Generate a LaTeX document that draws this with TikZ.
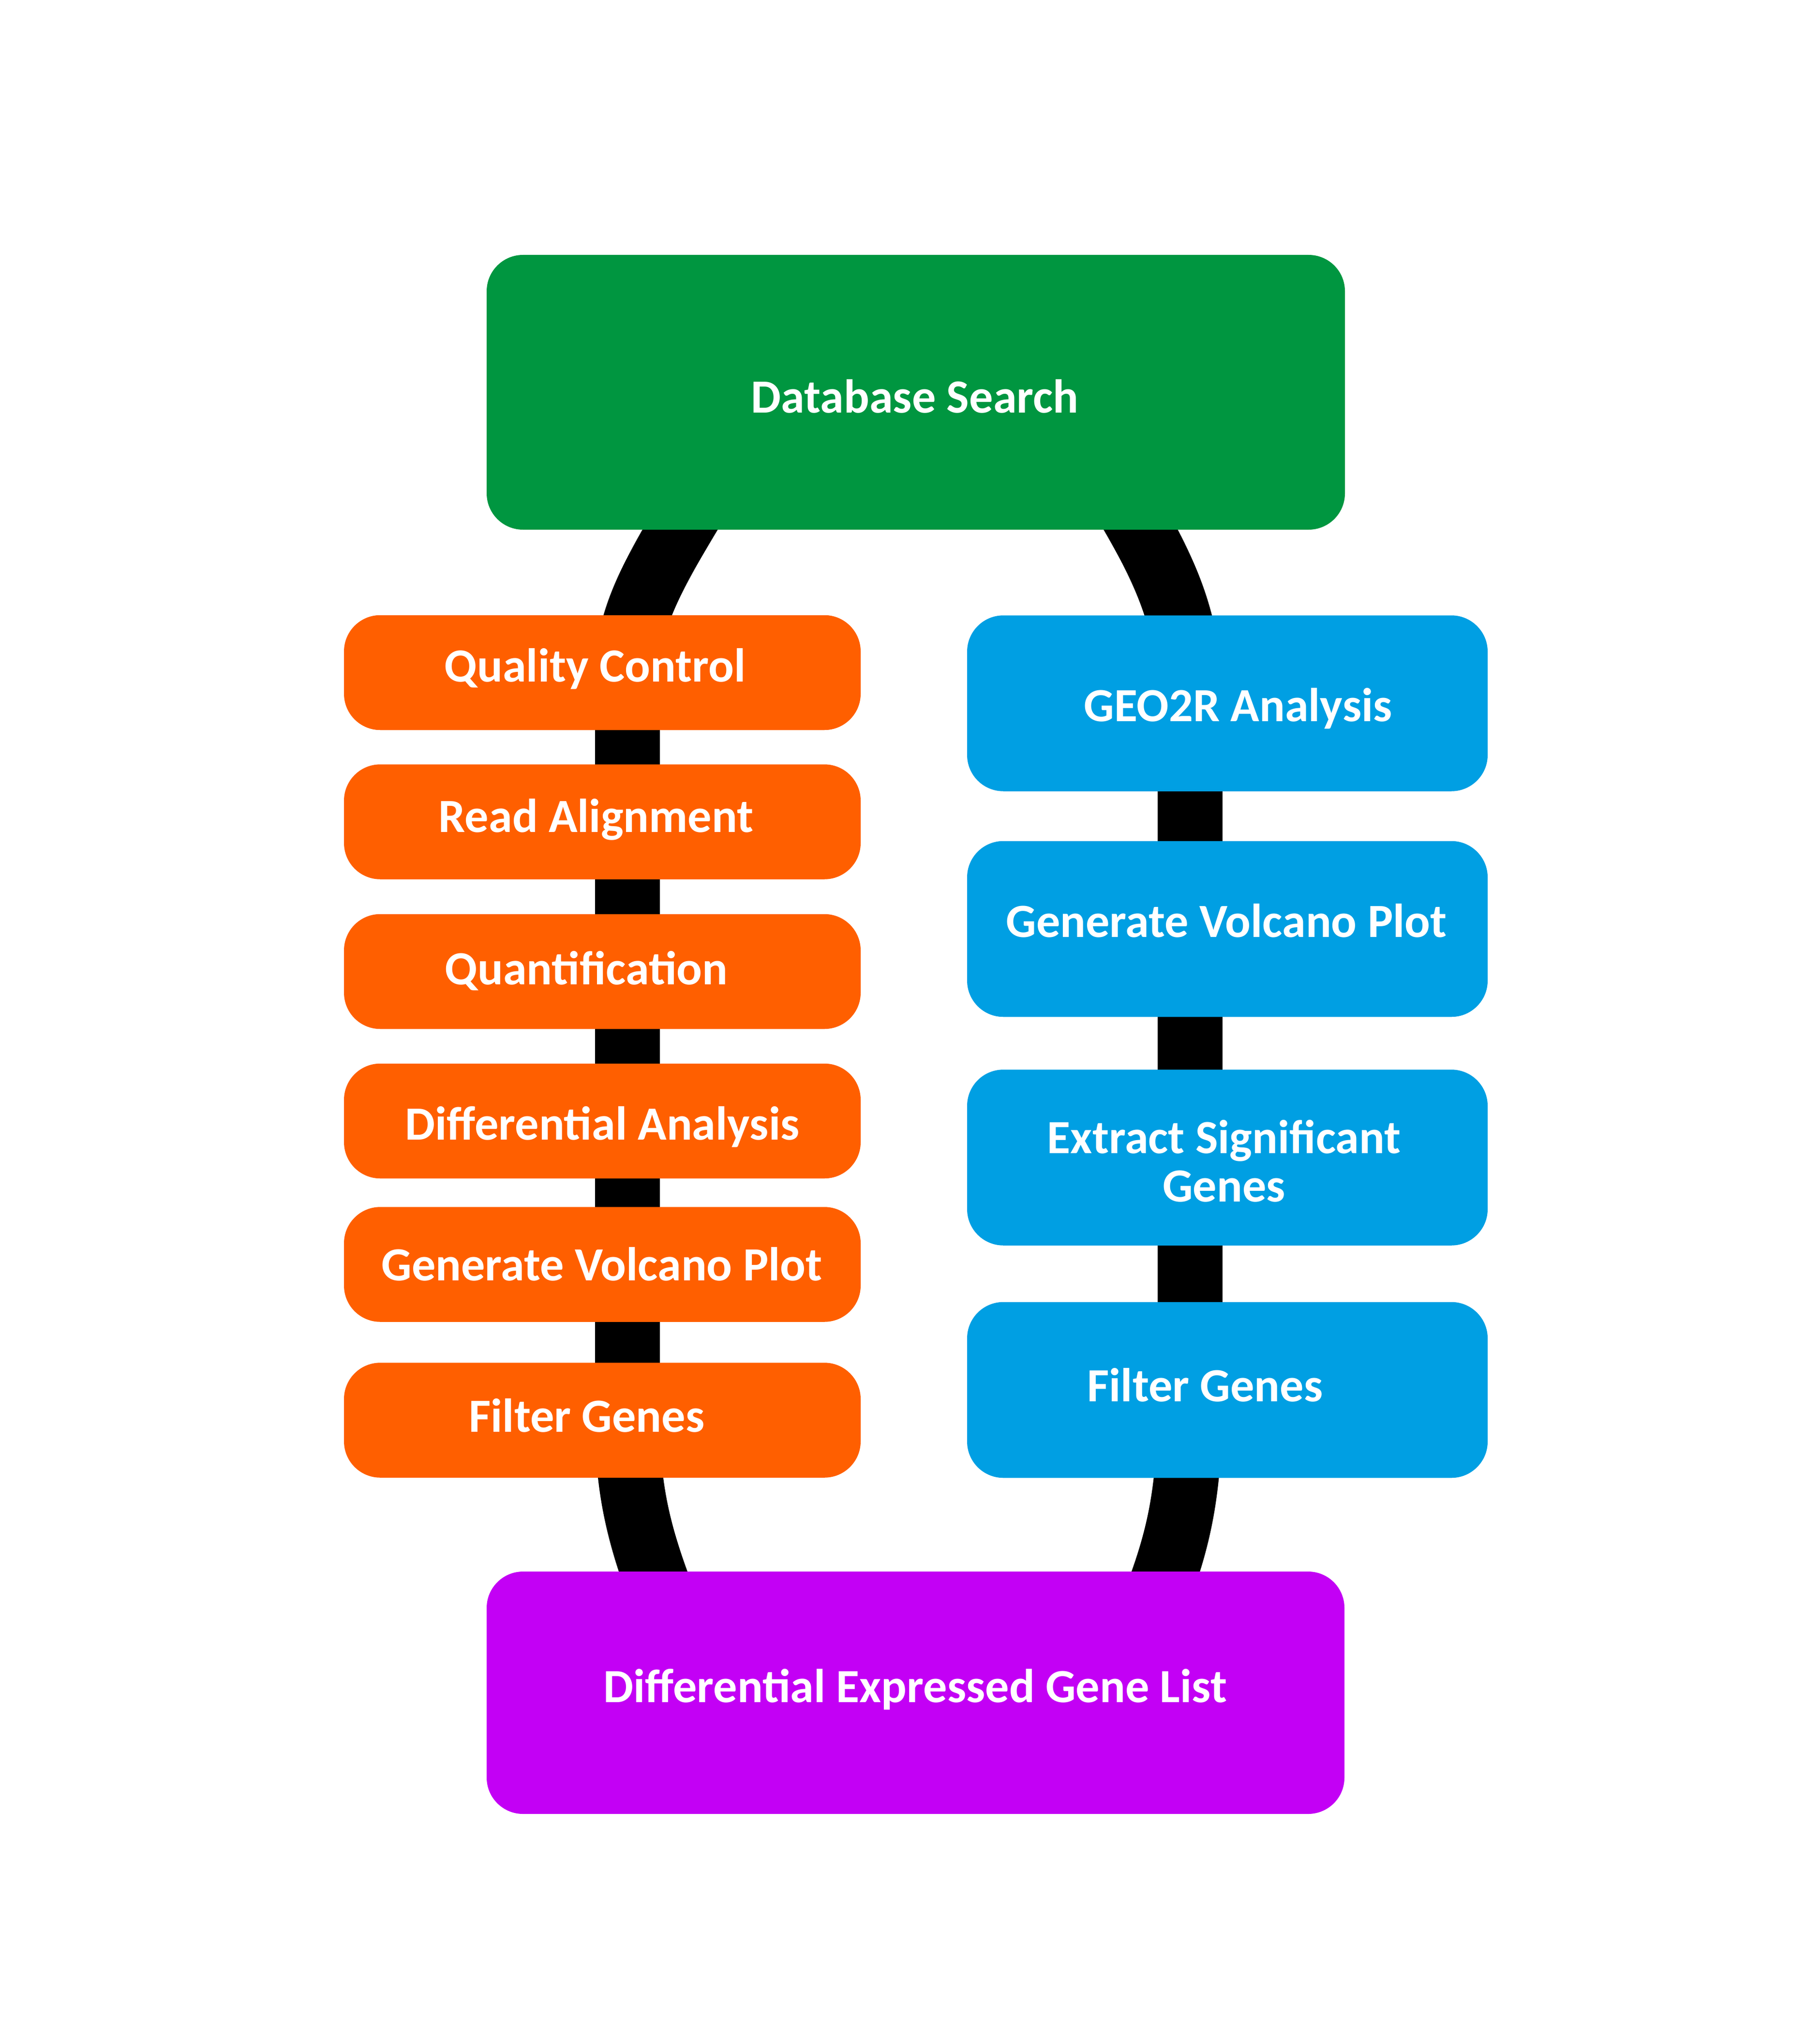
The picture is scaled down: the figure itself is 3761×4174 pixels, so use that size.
\documentclass[tikz,border=0pt]{standalone}
\usepackage{fontspec}
\setmainfont{Carlito}
\usetikzlibrary{backgrounds}
\definecolor{dsgreen}{HTML}{009640}
\definecolor{qorange}{HTML}{FF5F00}
\definecolor{gblue}{HTML}{009FE3}
\definecolor{dpurple}{HTML}{C300F5}
\begin{document}
\begin{tikzpicture}[x=0.1mm,y=-0.1mm,
  box/.style={rounded corners=7.5mm, inner sep=0pt, draw=none},
  obox/.style={box, fill=qorange, minimum width=106.8mm, minimum height=23.75mm},
  bbox/.style={box, fill=gblue, minimum width=107.6mm, minimum height=36.35mm},
  lbl/.style={text=white, font=\fontsize{28}{28.2}\selectfont\bfseries, anchor=base, inner sep=0pt, align=center},
  edge/.style={line width=13.4mm, black}]
\useasboundingbox (0,0) rectangle (3761,4174);
% boxes
\node[box, fill=dsgreen, minimum width=177.4mm, minimum height=56.8mm] (ds) at (1893,811) {};
\node[obox] (qc) at (1245,1390.5) {};
\node[obox] (ra) at (1245,1699) {};
\node[obox] (qn) at (1245,2008.5) {};
\node[obox] (da) at (1245,2317.5) {};
\node[obox] (gvo) at (1245,2614) {};
\node[obox] (fgo) at (1245,2936) {};
\node[bbox] (geo) at (2537,1454) {};
\node[bbox] (gvb) at (2537,1920.5) {};
\node[bbox] (esg) at (2537,2393) {};
\node[bbox] (fgb) at (2537,2873.5) {};
\node[box, fill=dpurple, minimum width=177.3mm, minimum height=50.1mm] (degl) at (1892.5,3499.5) {};
% labels
\node[lbl] (t-ds) at (1891,854) {Database Search};
\node[lbl] (t-qc) at (1230,1409) {Quality Control};
\node[lbl] (t-ra) at (1232,1720) {Read Alignment};
\node[lbl] (t-qn) at (1212,2035) {Quantification};
\node[lbl] (t-da) at (1245,2356) {Differential Analysis};
\node[lbl] (t-gvo) at (1244,2647) {Generate Volcano Plot};
\node[lbl] (t-fgo) at (1213,2960) {Filter Genes};
\node[lbl] (t-geo) at (2559,1491) {GEO2R Analysis};
\node[lbl] (t-gvb) at (2535,1937) {Generate Volcano Plot};
\node[lbl] (t-esg) at (2530,2484) {Extract Significant\\Genes};
\node[lbl] (t-fgb) at (2491,2897) {Filter Genes};
\node[lbl] (t-degl) at (1892,3519) {Differential Expressed Gene List};
% connectors
\begin{scope}[on background layer]
\draw[edge] ([xshift=-44.3mm,yshift=7.5mm]ds.south) .. controls +(-9mm,-15mm) and +(0,12mm) .. ([xshift=5.2mm]qc.center);
\draw[edge] ([xshift=5.2mm]qc.center) -- ([xshift=5.2mm]ra.center);
\draw[edge] ([xshift=5.2mm]ra.center) -- ([xshift=5.2mm]qn.center);
\draw[edge] ([xshift=5.2mm]qn.center) -- ([xshift=5.2mm]da.center);
\draw[edge] ([xshift=5.2mm]da.center) -- ([xshift=5.2mm]gvo.center);
\draw[edge] ([xshift=5.2mm]gvo.center) -- ([xshift=5.2mm]fgo.center);
\draw[edge] ([xshift=5.2mm]fgo.center) .. controls +(0,-14.4mm) and +(-6mm,15mm) .. ([xshift=-51.25mm,yshift=-8.1mm]degl.north);
\draw[edge] ([xshift=42.2mm,yshift=7.5mm]ds.south) .. controls +(9mm,-15mm) and +(0,17.4mm) .. ([xshift=-7.7mm]geo.center);
\draw[edge] ([xshift=-7.7mm]geo.center) -- ([xshift=-7.7mm]gvb.center);
\draw[edge] ([xshift=-7.7mm]gvb.center) -- ([xshift=-7.7mm]esg.center);
\draw[edge] ([xshift=-7.7mm]esg.center) -- ([xshift=-7.7mm]fgb.center);
\draw[edge] ([xshift=-7.7mm]fgb.center) .. controls +(0,-20.7mm) and +(6mm,15mm) .. ([xshift=48.75mm,yshift=-8.1mm]degl.north);
\end{scope}
\end{tikzpicture}
\end{document}
